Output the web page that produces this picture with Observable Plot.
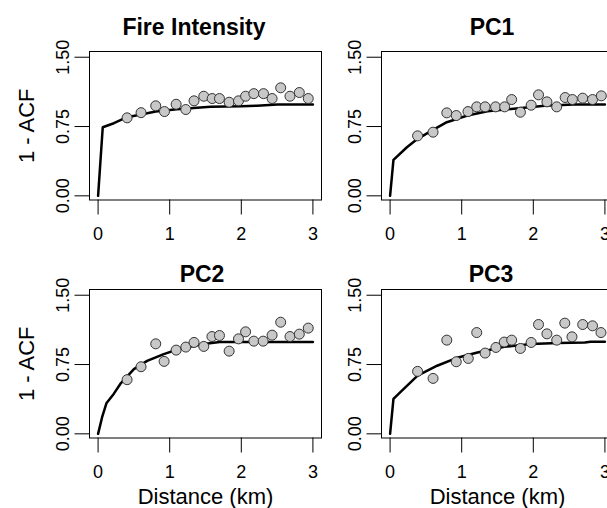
<!DOCTYPE html>
<html><head><meta charset="utf-8">
<script src="https://cdn.jsdelivr.net/npm/d3@7"></script>
<script src="https://cdn.jsdelivr.net/npm/@observablehq/plot@0.6"></script>
<style>
html,body{margin:0;padding:0;background:#fff;overflow:hidden;}
#chart{position:relative;width:607px;height:508px;overflow:hidden;background:#fff;}
#chart svg{position:absolute;}
</style></head><body><div id="chart"></div>
<script>
// ---- data ----
const panelTitles = ["Fire Intensity", "PC1", "PC2", "PC3"];
const xTicks = [0, 1, 2, 3];
const yTicks = [0, 0.75, 1.5];
const yLabel = "1 - ACF";
const xLabel = "Distance (km)";

const fireDist = [0.405,0.60,0.805,0.927,1.09,1.225,1.34,1.476,1.593,1.695,1.83,1.961,2.06,2.175,2.31,2.43,2.55,2.68,2.81,2.935];
const fireAcf  = [0.844,0.90,0.974,0.912,0.991,0.934,1.028,1.078,1.053,1.053,1.013,1.028,1.078,1.106,1.106,1.053,1.169,1.078,1.118,1.053];
const fireLineDist = [0,0.065,0.22,0.405,0.6,0.805,1.1,1.57,2.0,2.22,2.5,3.0];
const fireLineAcf  = [0,0.742,0.786,0.851,0.88,0.912,0.937,0.963,0.97,0.975,0.988,0.988];

const pc1Dist = [0.384,0.60,0.792,0.924,1.088,1.21,1.327,1.473,1.6,1.698,1.82,1.97,2.073,2.19,2.327,2.445,2.546,2.69,2.827,2.95];
const pc1Acf  = [0.649,0.689,0.898,0.869,0.912,0.963,0.963,0.963,0.963,1.042,0.905,0.981,1.093,1.017,0.963,1.064,1.042,1.057,1.042,1.082];
const pc1LineDist = [0,0.047,0.235,0.384,0.6,0.792,1.08,1.36,1.69,2.16,2.56,3.0];
const pc1LineAcf  = [0,0.39,0.526,0.617,0.714,0.797,0.869,0.916,0.94,0.974,0.988,0.988];

const pc2Dist = [0.405,0.60,0.805,0.922,1.09,1.225,1.34,1.476,1.59,1.695,1.83,1.961,2.06,2.175,2.305,2.43,2.55,2.68,2.81,2.935];
const pc2Acf  = [0.586,0.726,0.974,0.784,0.906,0.939,0.989,0.946,1.053,1.064,0.895,1.028,1.104,1.003,1.003,1.068,1.208,1.053,1.079,1.144];
const pc2LineDist = [0,0.056,0.116,0.218,0.31,0.5,0.685,0.917,1.15,1.476,1.7,3.0];
const pc2LineAcf  = [0,0.18,0.33,0.432,0.54,0.70,0.79,0.863,0.924,0.971,0.993,0.993];

const pc3Dist = [0.384,0.60,0.792,0.924,1.092,1.21,1.327,1.478,1.594,1.698,1.82,1.97,2.073,2.19,2.327,2.44,2.54,2.69,2.827,2.945];
const pc3Acf  = [0.676,0.60,1.014,0.78,0.816,1.096,0.874,0.935,0.993,1.014,0.924,0.989,1.183,1.082,1.014,1.198,1.05,1.183,1.169,1.096];
const pc3LineDist = [0,0.047,0.14,0.384,0.657,0.924,1.22,1.594,1.97,2.345,2.72,2.8,3.0];
const pc3LineAcf  = [0,0.378,0.449,0.629,0.737,0.82,0.881,0.942,0.971,0.982,0.989,0.996,0.996];

// ---- layout ----
const font = "'Liberation Sans', Arial, Helvetica, sans-serif";
const panels = [
  {title: panelTitles[0], pd: fireDist, pv: fireAcf, ld: fireLineDist, lv: fireLineAcf, left: 0, top: 0, tdx: -11.5, tdy: -16.5, col: 0, row: 0},
  {title: panelTitles[1], pd: pc1Dist, pv: pc1Acf, ld: pc1LineDist, lv: pc1LineAcf, left: 291.5, top: 0, tdx: -5.5, tdy: -16.5, col: 1, row: 0},
  {title: panelTitles[2], pd: pc2Dist, pv: pc2Acf, ld: pc2LineDist, lv: pc2LineAcf, left: 0, top: 238, tdx: -3.5, tdy: -8, col: 0, row: 1},
  {title: panelTitles[3], pd: pc3Dist, pv: pc3Acf, ld: pc3LineDist, lv: pc3LineAcf, left: 291.5, top: 238, tdx: -6.5, tdy: -8, col: 1, row: 1}
];

const chart = document.getElementById("chart");
for (const p of panels) {
  const pts = p.pd.map((d, i) => ({d, v: p.pv[i]}));
  const ln = p.ld.map((d, i) => ({d, v: p.lv[i]}));
  const marks = [
    Plot.frame({stroke: "black", strokeWidth: 1}),
    Plot.axisX({ticks: xTicks, tickSize: 15, tickPadding: 12, fontSize: 18, label: null, tickFormat: d => String(d), stroke: "black"}),
    Plot.axisY({ticks: yTicks, tickSize: 14.5, tickPadding: 6, tickRotate: -90, fontSize: 18, label: null, tickFormat: d3.format(".2f"), stroke: "black"}),
    Plot.line(ln, {x: "d", y: "v", stroke: "black", strokeWidth: 2.5}),
    Plot.dot(pts, {x: "d", y: "v", r: 5, fill: "#c8c8c8", stroke: "#333", strokeWidth: 1}),
    Plot.text([p.title], {text: d => d, frameAnchor: "top", dx: p.tdx, dy: p.tdy, lineAnchor: "bottom", fontWeight: "bold", fontSize: 23})
  ];
  if (p.col === 0) marks.push(Plot.text([yLabel], {text: d => d, frameAnchor: "left", dx: -56, rotate: -90, textAnchor: "middle", lineAnchor: "bottom", fontSize: 22}));
  if (p.row === 1) marks.push(Plot.text([xLabel], {text: d => d, frameAnchor: "bottom", dy: 65.5, lineAnchor: "bottom", fontSize: 22}));
  const svg = Plot.plot({
    width: 335, height: 270,
    marginLeft: 89, marginRight: 14, marginTop: 51, marginBottom: 70.5,
    x: {domain: [-0.12, 3.12]},
    y: {domain: [-0.045, 1.562]},
    style: {background: "transparent", overflow: "visible", fontFamily: font, color: "black", maxWidth: "none"},
    marks
  });
  svg.style.left = p.left + "px";
  svg.style.top = p.top + "px";
  chart.appendChild(svg);
}
</script></body></html>
